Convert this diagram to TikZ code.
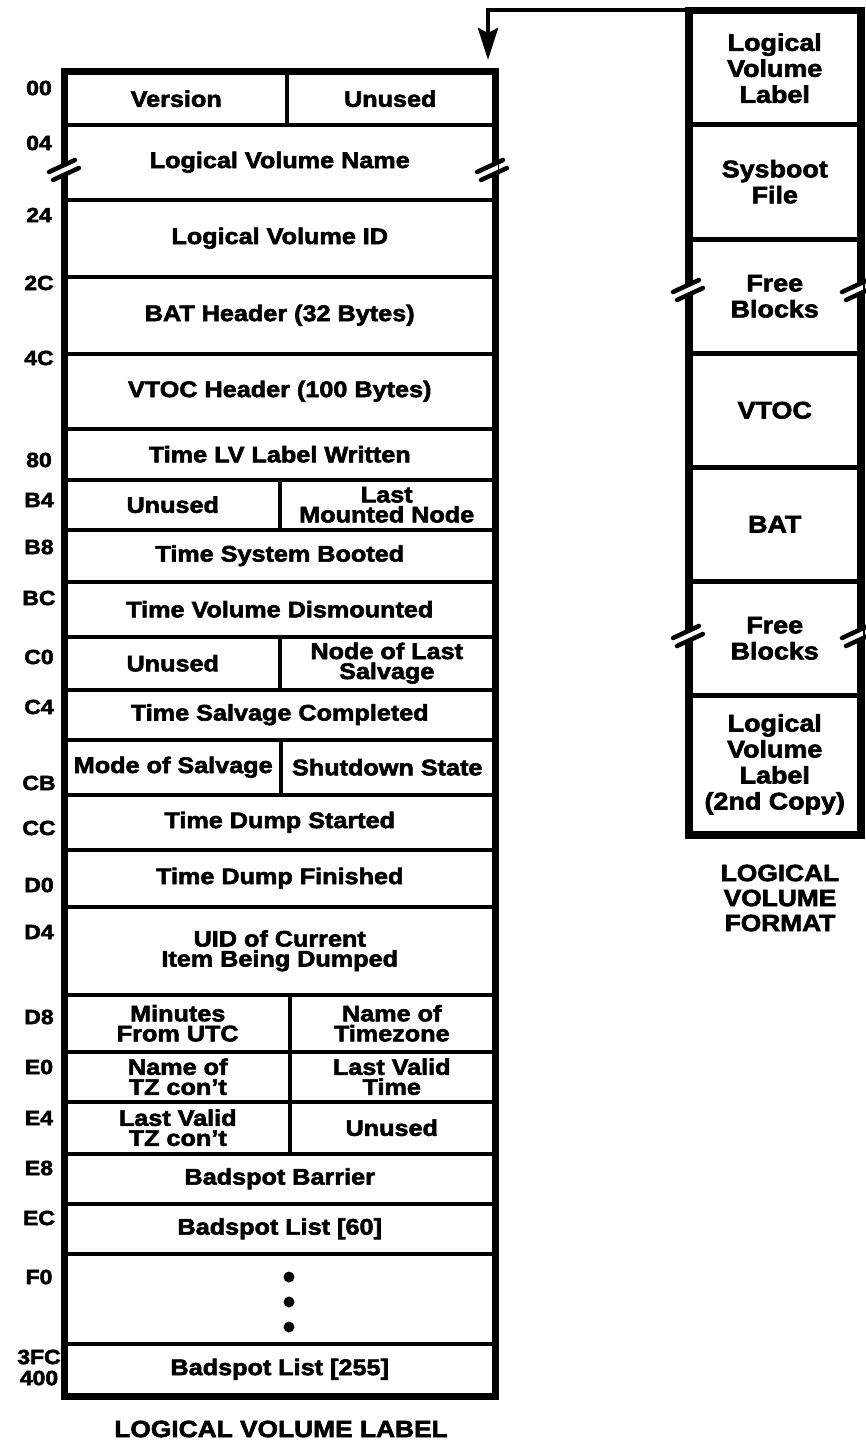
\documentclass[tikz,border=0pt]{standalone}
\usepackage{fontspec}
\setmainfont{Liberation Sans}[FakeStretch=1.12,BoldFeatures={FakeBold=2.6}]
\usetikzlibrary{arrows.meta,positioning}

\tikzset{
  cell/.style={draw,line width=3.5pt,inner sep=0pt,align=center,anchor=north west,
    font=\bfseries\fontsize{22.5}{20}\selectfont},
  fmtcell/.style={draw,line width=4.5pt,inner sep=0pt,align=center,anchor=north west,
    minimum width=169pt,font=\bfseries\fontsize{24}{26}\selectfont},
  offs/.style={inner sep=0pt,font=\bfseries\fontsize{20.5}{21}\selectfont},
  outer/.style={line width=6pt},
  cutline/.style={line width=4.5pt,line cap=round},
  caption/.style={align=center,font=\bfseries\fontsize{23.5}{25}\selectfont},
  arrowline/.style={line width=4.5pt,-{Stealth[length=32pt,width=20pt,inset=5pt]}}
}
% break mark on a vertical edge at (#1,#2)
\newcommand\cut[2]{%
  \fill[white] (#1-6,#2-4) rectangle (#1+6,#2+6);
  \draw[cutline] (#1-15,#2+4) -- (#1+11,#2-8);
  \draw[cutline] (#1-11,#2+12) -- (#1+15,#2);
}

\begin{document}
\begin{tikzpicture}[x=1pt,y=-1pt]
\useasboundingbox (0,0) rectangle (866,1445);

% logical volume label: whole rows
\foreach \k/\t/\b/\n in {name/123/198/Logical Volume Name,
  id/198/275/Logical Volume ID,
  bat/275/352/{BAT Header (32 Bytes)},
  vtoc/352/427/{VTOC Header (100 Bytes)},
  lvw/427/478/Time LV Label Written,
  booted/528/580/Time System Booted,
  dism/580/635/Time Volume Dismounted,
  salv/688/738/Time Salvage Completed,
  dstart/793/848/Time Dump Started,
  dfin/848/905/Time Dump Finished,
  uid/905/993/UID of Current\\Item Being Dumped,
  barr/1152/1202/Badspot Barrier,
  bs60/1202/1252/{Badspot List [60]},
  gap/1252/1342/{},
  bs255/1342/1393/{Badspot List [255]}}
  \node[cell,minimum width=428pt,minimum height={\b-\t}] (\k) at (64,\t) {\n};

% split rows
\foreach \k/\t/\b/\s/\l/\r in {vu/71/123/285/Version/Unused,
  lmn/478/528/278/Unused/Last\\Mounted Node,
  nls/635/688/278/Unused/Node of Last\\Salvage,
  mode/738/793/279/Mode of Salvage/Shutdown State,
  utc/993/1050/288/Minutes\\From UTC/Name of\\Timezone,
  tz/1050/1100/288/Name of\\TZ con't/Last Valid\\Time,
  ltz/1100/1152/288/Last Valid\\TZ con't/Unused}
{
  \node[cell,minimum width={\s-64},minimum height={\b-\t}] (\k-l) at (64,\t) {\l};
  \node[cell,minimum width={492-\s},minimum height={\b-\t}] (\k-r) at (\s,\t) {\r};
}

\foreach \y in {1277,1302,1327}
  \fill (289,\y) circle (5.5pt);

\draw[outer] (vu-l.north west) rectangle (bs255.south east);
\cut{64}{168}
\cut{492}{168}

% offsets
\foreach \o/\y in {00/88,04/143,24/215,2C/283,4C/358,80/460,B4/500,B8/547,
  BC/598,C0/657,C4/707,CB/783,CC/828,D0/885,D4/932,D8/1017,E0/1067,
  E4/1118,E8/1168,EC/1218,F0/1277,3FC/1357,400/1378}
  \node[offs] (o\o) at (39,\y) {\o};

% logical volume format
\foreach \k/\t/\b/\n in {flbl/10/122/Logical\\Volume\\Label,
  fsys/122/237/Sysboot\\File,
  ffree/237/351/Free\\Blocks,
  fvtoc/351/465/VTOC,
  fbat/465/579/BAT,
  ffree2/579/693/Free\\Blocks,
  fcopy/693/831/Logical\\Volume\\Label\\(2nd Copy)}
  \node[fmtcell,minimum height={\b-\t}] (\k) at (688,\t) {\n};

\draw[outer] (flbl.north west) rectangle (fcopy.south east);
\cut{688}{288}
\cut{857}{288}
\cut{688}{634}
\cut{857}{634}

\coordinate (tip) at (488,60);
\draw[arrowline] (flbl.north west) -| (tip);

\node[caption] (fmtcap) at (780,898) {LOGICAL\\VOLUME\\FORMAT};
\node[caption] (lblcap) at (281,1429) {LOGICAL VOLUME LABEL};
\end{tikzpicture}
\end{document}
